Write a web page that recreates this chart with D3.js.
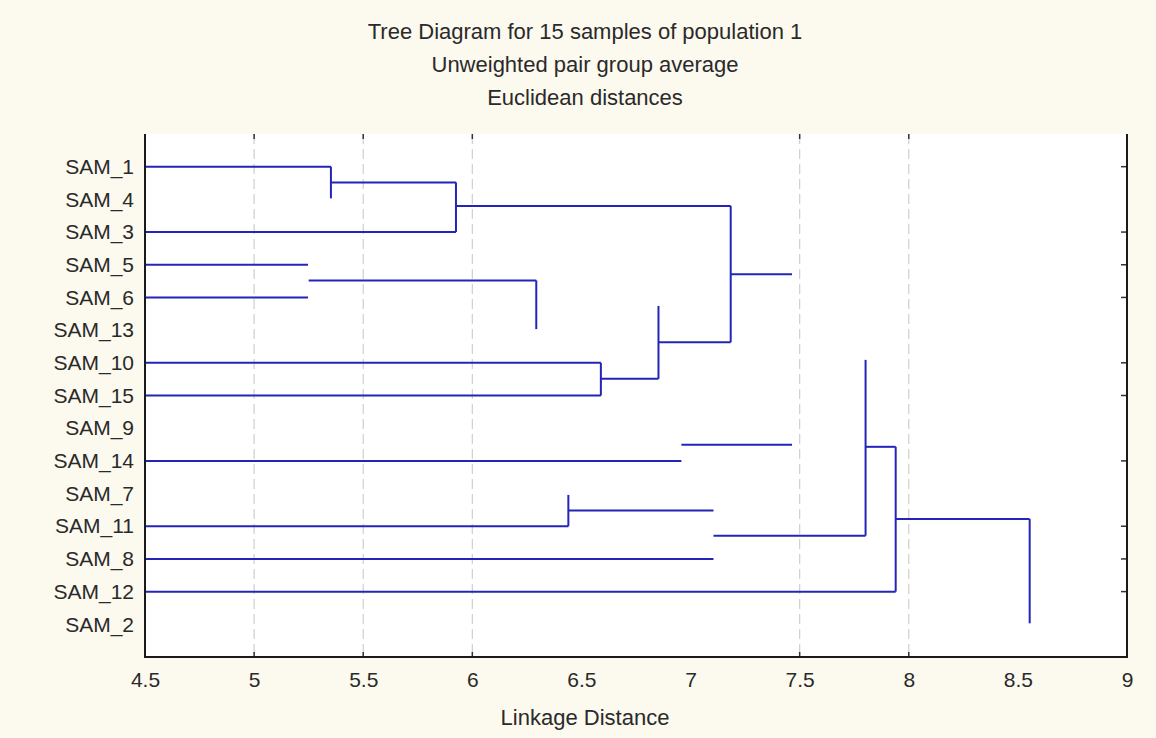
<!DOCTYPE html>
<html>
<head>
<meta charset="utf-8">
<script src="https://cdn.jsdelivr.net/npm/d3@7"></script>
<style>
  body { margin: 0; background: #fcf9ee; }
  svg { display: block; font-family: "Liberation Sans", Arial, sans-serif; }
</style>
</head>
<body>
<svg id="tree"></svg>
<script>
// samples, top to bottom
var samples = ["SAM_1", "SAM_4", "SAM_3", "SAM_5", "SAM_6", "SAM_13", "SAM_10", "SAM_15",
    "SAM_9", "SAM_14", "SAM_7", "SAM_11", "SAM_8", "SAM_12", "SAM_2"];
var xTicks = [4.5, 5, 5.5, 6, 6.5, 7, 7.5, 8, 8.5, 9];
var gridVals = [5, 5.5, 6, 7.5, 8];
var rightTickRows = [0, 2, 3, 4, 6, 7, 9, 11, 12, 13];
var titles = ["Tree Diagram for 15 samples of population 1", "Unweighted pair group average", "Euclidean distances"];

// horizontal links: [row, fromDist, toDist]
var hLinks = [
    [0, 4.5, 5.352], [0.48, 5.352, 5.925], [2, 4.5, 5.925], [1.2, 5.925, 7.184],
    [3.29, 7.184, 7.465], [3, 4.5, 5.247], [4, 4.5, 5.247], [3.48, 5.25, 6.293],
    [6, 4.5, 6.589], [7, 4.5, 6.589], [6.49, 6.589, 6.853], [5.37, 6.853, 7.184],
    [9, 4.5, 6.958], [8.51, 6.958, 7.465], [11, 4.5, 6.44], [10.52, 6.44, 7.105],
    [11.29, 7.105, 7.802], [8.57, 7.802, 7.94], [12, 4.5, 7.105], [13, 4.5, 7.94],
    [10.78, 7.94, 8.554]
];
// vertical links: [dist, fromRow, toRow]
var vLinks = [
    [5.352, 0, 0.97], [5.925, 0.48, 2], [7.184, 1.2, 5.37], [6.293, 3.48, 4.97],
    [6.589, 6, 7], [6.853, 4.26, 6.49], [6.44, 10.04, 11], [7.802, 5.91, 11.29],
    [7.94, 8.57, 13], [8.554, 10.78, 13.97]
];

(function () {
    var W = 1156, H = 738;
    var m = { left: 145, right: 1127, top: 134, bottom: 657 };
    var svg = d3.select("#tree").attr("width", W).attr("height", H);

    var x = d3.scaleLinear().domain([4.5, 9]).range([m.left, m.right]);
    var y = d3.scaleLinear().domain([-1, samples.length]).range([m.top, m.bottom]);

    svg.append("rect")
        .attr("x", m.left).attr("y", m.top)
        .attr("width", m.right - m.left).attr("height", m.bottom - m.top)
        .attr("fill", "#ffffff");

    // dashed grid
    svg.selectAll(".grid")
        .data(gridVals)
        .enter().append("line")
        .attr("class", "grid")
        .attr("x1", d => x(d)).attr("x2", d => x(d))
        .attr("y1", m.top).attr("y2", m.bottom)
        .attr("stroke", "#cfcfcf")
        .attr("stroke-width", 1.2)
        .attr("stroke-dasharray", "10,5");

    // small inward ticks
    svg.selectAll(".ttick")
        .data(gridVals.concat([9]))
        .enter().append("line")
        .attr("x1", d => x(d)).attr("x2", d => x(d))
        .attr("y1", m.top).attr("y2", m.top + 5)
        .attr("stroke", "#333").attr("stroke-width", 1.5);
    svg.selectAll(".btick")
        .data(gridVals)
        .enter().append("line")
        .attr("x1", d => x(d)).attr("x2", d => x(d))
        .attr("y1", m.bottom).attr("y2", m.bottom - 5)
        .attr("stroke", "#333").attr("stroke-width", 1.5);
    svg.selectAll(".rtick")
        .data(rightTickRows)
        .enter().append("line")
        .attr("x1", m.right).attr("x2", m.right - 6)
        .attr("y1", d => y(d)).attr("y2", d => y(d))
        .attr("stroke", "#333").attr("stroke-width", 1.5);

    // tree links
    var blue = "#2424b8";
    svg.selectAll(".hl")
        .data(hLinks)
        .enter().append("line")
        .attr("class", "hl")
        .attr("x1", d => x(d[1])).attr("x2", d => x(d[2]))
        .attr("y1", d => y(d[0])).attr("y2", d => y(d[0]))
        .attr("stroke", blue).attr("stroke-width", 2);
    svg.selectAll(".vl")
        .data(vLinks)
        .enter().append("line")
        .attr("class", "vl")
        .attr("x1", d => x(d[0])).attr("x2", d => x(d[0]))
        .attr("y1", d => y(d[1])).attr("y2", d => y(d[2]))
        .attr("stroke", blue).attr("stroke-width", 2);

    // frame (no top line)
    svg.append("path")
        .attr("d", "M" + m.left + "," + m.top + "V" + m.bottom + "H" + m.right + "V" + m.top)
        .attr("fill", "none")
        .attr("stroke", "#1a1a1a")
        .attr("stroke-width", 2);

    // x axis labels
    var xAxis = d3.axisBottom(x)
        .tickValues(xTicks)
        .tickSize(0)
        .tickPadding(15)
        .tickFormat(d3.format("~g"));
    svg.append("g")
        .attr("transform", "translate(0," + m.bottom + ")")
        .call(xAxis)
        .call(g => g.select(".domain").remove())
        .selectAll("text")
        .style("font-size", "21px")
        .style("fill", "#2a2a2a")
        .style("font-family", "Liberation Sans, Arial, sans-serif");

    // sample labels
    var yAxis = d3.axisLeft(y)
        .tickValues(d3.range(samples.length))
        .tickSize(0)
        .tickPadding(11)
        .tickFormat(i => samples[i]);
    svg.append("g")
        .attr("transform", "translate(" + m.left + ",0)")
        .call(yAxis)
        .call(g => g.select(".domain").remove())
        .selectAll("text")
        .style("font-size", "21px")
        .style("fill", "#2a2a2a")
        .style("font-family", "Liberation Sans, Arial, sans-serif");

    // titles
    svg.selectAll(".title")
        .data(titles)
        .enter().append("text")
        .attr("x", 585)
        .attr("y", (d, i) => 39 + i * 33)
        .attr("text-anchor", "middle")
        .style("font-size", "22px")
        .style("fill", "#2a2a2a")
        .text(d => d);

    svg.append("text")
        .attr("x", 585)
        .attr("y", 725)
        .attr("text-anchor", "middle")
        .style("font-size", "22px")
        .style("fill", "#2a2a2a")
        .text("Linkage Distance");
})();
</script>
</body>
</html>
